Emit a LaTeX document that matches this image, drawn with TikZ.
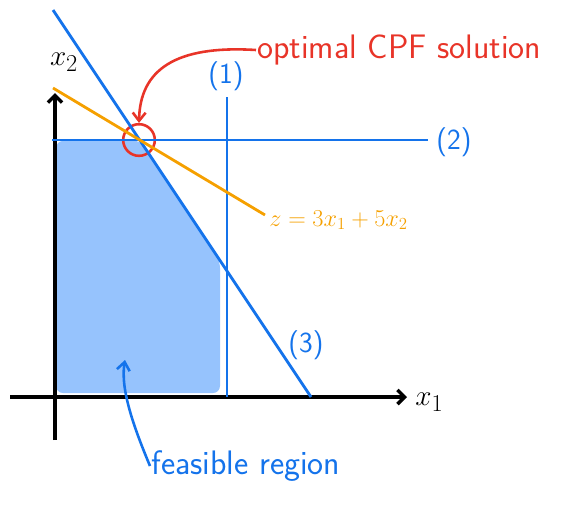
\documentclass[tikz,border=0pt]{standalone}
\usepackage{amsmath, amssymb}
\usetikzlibrary{arrows.meta,positioning}
\definecolor{lineblue}{RGB}{20,115,235}
\definecolor{fillblue}{RGB}{150,195,253}
\definecolor{zorange}{RGB}{245,160,0}
\definecolor{cpfred}{RGB}{232,52,40}

\begin{document}
\begin{tikzpicture}[
    x=0.03cm, y=-0.03cm,
    axis/.style={line width=3pt, black, -{Straight Barb[length=6pt,width=12pt]}},
    constraint/.style={line width=2.4pt, lineblue},
    objective/.style={line width=2.4pt, zorange},
    arrow/.style={line width=2.2pt, -{Straight Barb[length=7pt,width=11pt]}},
    lbl/.style={inner sep=1pt, font=\sffamily\Huge},
    zlbl/.style={inner sep=1pt, font=\huge},
    axlbl/.style={inner sep=1pt, font=\Huge},
    bigtext/.style={inner sep=1pt, font=\sffamily\fontsize{29}{32}\selectfont},
    every node/.style={inner sep=0pt}
]
\useasboundingbox (0,0) rectangle (564,521);

% Nodes
\coordinate (x1start) at (10,397);
\coordinate (x1end) at (407,397);
\coordinate (x2start) at (55,440);
\coordinate (x2end) at (55,93);
\coordinate (c1top) at (227,97);
\coordinate (c1bot) at (227,397);
\coordinate (c2left) at (52,140);
\coordinate (c2right) at (428,140);
\coordinate (c3top) at (53,10);
\coordinate (c3bot) at (311,397);
\coordinate (ztop) at (53,88);
\coordinate (zbot) at (265,215);
\coordinate (cpf) at (139,140);

\node[axlbl, right] (x1label) at (414,402) {$x_1$};
\node[axlbl] (x2label) at (64,62) {$x_2$};
\node[lbl, lineblue] (c1label) at (226,76) {(1)};
\node[lbl, lineblue, right] (c2label) at (435,142) {(2)};
\node[lbl, lineblue] (c3label) at (306,345) {(3)};
\node[zlbl, zorange, right] (zlabel) at (268,220) {$z=3x_1+5x_2$};
\node[bigtext, cpfred, right] (cpflabel) at (256,50) {optimal CPF solution};
\node[bigtext, lineblue, right] (feaslabel) at (150,466) {feasible region};

% Feasible region
\fill[fillblue, rounded corners=6pt] (56,141) -- (cpf) -- (220,261) -- (220,393) -- (56,393) -- cycle;
\node[circle, draw=cpfred, line width=2.2pt, minimum size=27pt] (cpfmark) at (cpf) {};

% Lines
\draw[axis] (x1start) -- (x1end);
\draw[axis] (x2start) -- (x2end);
\draw[constraint] (c1top) -- (c1bot);
\draw[constraint] (c2left) -- (c2right);
\draw[constraint] (c3top) -- (c3bot);
\draw[objective] (ztop) -- (zbot);

% Arrows
\draw[arrow, cpfred] (cpflabel.west) .. controls (175,45) and (140,70) .. (cpfmark.north);
\draw[arrow, lineblue] (feaslabel.west) .. controls (135,430) and (120,390) .. (125,360);

\end{tikzpicture}
\end{document}
